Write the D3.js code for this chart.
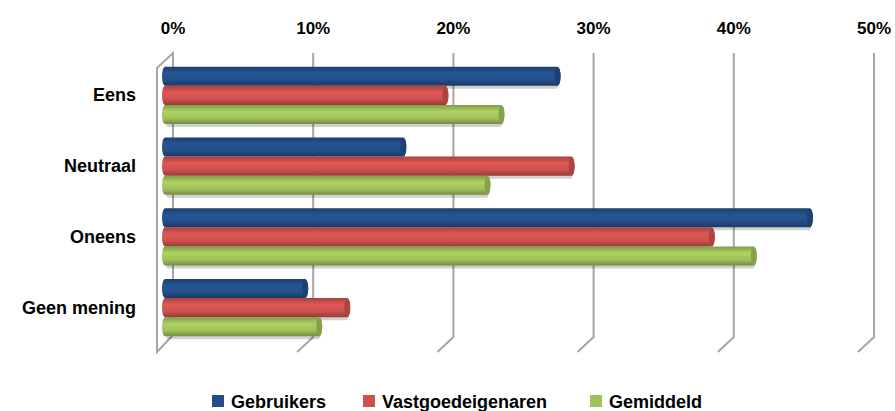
<!DOCTYPE html>
<html>
<head>
<meta charset="utf-8">
<script src="https://cdn.jsdelivr.net/npm/d3@7"></script>
<style>
  body { margin: 0; background: #fff; }
  text { font-family: "Liberation Sans", Arial, sans-serif; fill: #000; }
</style>
</head>
<body>
<div id="chart"></div>
<script>
var categories = ["Eens", "Neutraal", "Oneens", "Geen mening"];
var series = ["Gebruikers", "Vastgoedeigenaren", "Gemiddeld"];
var gebruikers = [28, 17, 46, 10];
var vastgoedeigenaren = [20, 29, 39, 13];
var gemiddeld = [24, 23, 42, 11];
var ticks = [0, 10, 20, 30, 40, 50];
var colors = ["#234e88", "#cd514e", "#9fc15a"];

var values = [gebruikers, vastgoedeigenaren, gemiddeld];

var width = 895,
    height = 411,
    depth = 16,
    gridTop = 53,
    gridBottom = 337;

var svg = d3.select("#chart").append("svg")
  .attr("width", width).attr("height", height);

var x = d3.scaleLinear().domain([0, 50]).range([173, 874]);
var y = d3.scaleBand().domain(categories).range([60, 343])
  .paddingInner(0.19).paddingOuter(0.095);
var ys = d3.scaleBand().domain(series).range([0, y.bandwidth()]);

// gradients for the cylinder look
var defs = svg.append("defs");
series.forEach(function(s, i) {
  var c = d3.color(colors[i]);
  var g = defs.append("linearGradient").attr("id", "g" + i)
    .attr("x1", 0).attr("y1", 0).attr("x2", 0).attr("y2", 1);
  g.append("stop").attr("offset", "0%").attr("stop-color", c.darker(0.6));
  g.append("stop").attr("offset", "35%").attr("stop-color", c.brighter(0.25));
  g.append("stop").attr("offset", "70%").attr("stop-color", c);
  g.append("stop").attr("offset", "100%").attr("stop-color", c.darker(0.9));
});

// grid lines with a 3D foot
var grid = svg.append("g").attr("stroke", "#a6a6a6").attr("stroke-width", 2).attr("fill", "none");
ticks.forEach(function(t) {
  var gx = x(t);
  if (t === 0) {
    grid.append("path").attr("d",
      "M" + gx + "," + (gridBottom - 2) + "V" + gridTop + "L" + (gx - depth) + "," + (gridTop + 15) +
      "V" + (gridBottom + 15) + "L" + gx + "," + (gridBottom - 2));
  } else {
    grid.append("path").attr("d",
      "M" + gx + "," + gridTop + "V" + gridBottom + "L" + (gx - depth) + "," + (gridBottom + 15));
  }
});

// tick labels
svg.append("g").selectAll("text").data(ticks).enter().append("text")
  .attr("x", function(d) { return x(d); })
  .attr("y", 34)
  .attr("text-anchor", "middle")
  .style("font-size", "17px").style("font-weight", "bold")
  .text(function(d) { return d + "%"; });

// category labels
svg.append("g").selectAll("text").data(categories).enter().append("text")
  .attr("x", 136)
  .attr("y", function(d) { return y(d) + y.bandwidth() / 2 + 6; })
  .attr("text-anchor", "end")
  .style("font-size", "18px").style("font-weight", "bold")
  .text(function(d) { return d; });

// bars
var off = -8, rx = 3;
var bars = svg.append("g");
series.forEach(function(s, i) {
  var h = ys.bandwidth();
  var g = bars.append("g");
  g.selectAll("rect.shadow").data(values[i]).enter().append("rect")
    .attr("class", "shadow")
    .attr("x", x(0) + off)
    .attr("y", function(d, j) { return y(categories[j]) + ys(s) + 3; })
    .attr("width", function(d) { return x(d) - x(0) + 2; })
    .attr("height", h)
    .attr("rx", rx).attr("ry", h / 2)
    .attr("fill", "#000").attr("opacity", 0.18);
  g.selectAll("rect.bar").data(values[i]).enter().append("rect")
    .attr("class", "bar")
    .attr("x", x(0) + off - rx)
    .attr("y", function(d, j) { return y(categories[j]) + ys(s); })
    .attr("width", function(d) { return x(d) - x(0) + 2 * rx; })
    .attr("height", h)
    .attr("rx", rx).attr("ry", h / 2)
    .attr("fill", "url(#g" + i + ")");
  g.selectAll("ellipse").data(values[i]).enter().append("ellipse")
    .attr("cx", function(d) { return x(d) + off; })
    .attr("cy", function(d, j) { return y(categories[j]) + ys(s) + h / 2; })
    .attr("rx", rx).attr("ry", h / 2 - 0.5)
    .attr("fill", d3.color(colors[i]).darker(0.5));
});

// legend
var legendX = [212, 363, 590];
var legend = svg.append("g");
series.forEach(function(s, i) {
  legend.append("rect")
    .attr("x", legendX[i]).attr("y", 395)
    .attr("width", 12).attr("height", 12)
    .attr("fill", colors[i]);
  legend.append("text")
    .attr("x", legendX[i] + 19).attr("y", 408)
    .style("font-size", "18px").style("font-weight", "bold")
    .text(s);
});
</script>
</body>
</html>
